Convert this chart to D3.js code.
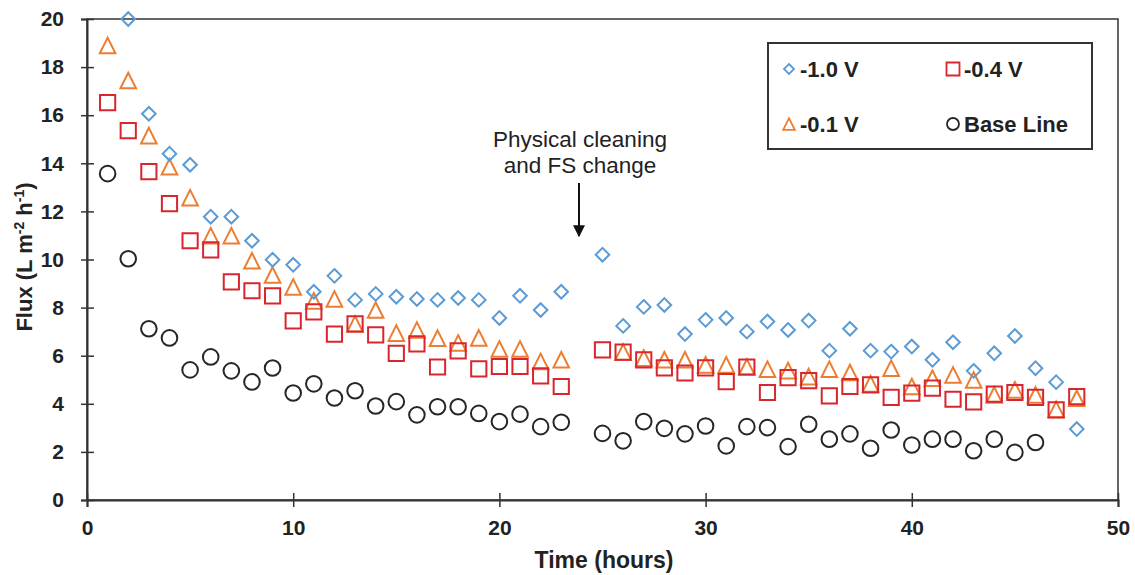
<!DOCTYPE html>
<html>
<head>
<meta charset="utf-8">
<script src="https://cdn.jsdelivr.net/npm/d3@7"></script>
<style>
  body { margin: 0; background: #fff; }
  text { font-family: "Liberation Sans", Arial, sans-serif; }
</style>
</head>
<body>
<div id="container"></div>
<script>
const width = 1135,
      height = 575,
      margin = { top: 19, bottom: 75, left: 87, right: 17 };

// hours of each reading
const hoursA = [1,2,3,4,5,6,7,8,9,10,11,12,13,14,15,16,17,18,19,20,21,22,23];
const hoursB = [25,26,27,28,29,30,31,32,33,34,35,36,37,38,39,40,41,42,43,44,45,46,47,48];

// -1.0 V (no reading at hour 1)
const v10 = [null,20,16.06,14.4,13.94,11.78,11.78,10.78,9.99,9.78,8.66,9.32,8.32,8.57,8.45,8.36,8.32,8.4,8.32,7.57,8.49,7.9,8.66,
             10.2,7.24,8.03,8.11,6.9,7.49,7.57,7.0,7.42,7.07,7.46,6.21,7.12,6.21,6.17,6.38,5.83,6.56,5.37,6.1,6.82,5.48,4.9,2.95];
// -0.4 V
const v04 = [16.52,15.36,13.65,12.32,10.78,10.4,9.07,8.7,8.49,7.45,7.82,6.9,7.32,6.87,6.1,6.49,5.53,6.2,5.45,5.55,5.55,5.16,4.72,
             6.24,6.15,5.83,5.49,5.28,5.49,4.92,5.53,4.47,5.09,4.96,4.33,4.72,4.79,4.27,4.44,4.65,4.19,4.08,4.4,4.47,4.27,3.75,4.3];
// -0.1 V (no reading at hour 25)
const v01 = [18.9,17.44,15.15,13.86,12.57,10.99,10.99,9.95,9.36,8.86,8.28,8.36,7.32,7.9,6.94,7.07,6.73,6.53,6.74,6.28,6.28,5.76,5.83,
             null,6.15,5.9,5.83,5.83,5.62,5.62,5.53,5.44,5.38,5.13,5.44,5.3,4.83,5.48,4.72,5.06,5.2,4.99,4.37,4.58,4.37,3.77,4.23];
// Base Line (no readings at hours 47, 48)
const base = [13.57,10.03,7.12,6.74,5.41,5.95,5.37,4.91,5.49,4.45,4.83,4.24,4.54,3.91,4.09,3.54,3.88,3.88,3.6,3.26,3.57,3.05,3.23,
              2.77,2.46,3.26,2.98,2.75,3.08,2.25,3.05,3.01,2.22,3.15,2.53,2.75,2.15,2.91,2.29,2.53,2.53,2.05,2.53,1.98,2.39,null,null];

const hours = hoursA.concat(hoursB);
const xTicks = [0,10,20,30,40,50];
const yTicks = [0,2,4,6,8,10,12,14,16,18,20];

const seriesInfo = [
    { name: "-1.0 V", values: v10, shape: "diamond", color: "#5b9bd5" },
    { name: "-0.4 V", values: v04, shape: "square", color: "#d7262e" },
    { name: "-0.1 V", values: v01, shape: "triangle", color: "#ed7d31" },
    { name: "Base Line", values: base, shape: "circle", color: "#262626" }
];

var svg = d3.select("#container").append("svg")
    .attr("width", width)
    .attr("height", height);

var x = d3.scaleLinear()
    .domain([0, 50])
    .range([margin.left, width - margin.right]);

var y = d3.scaleLinear()
    .domain([0, 20])
    .range([height - margin.bottom, margin.top]);

// marker path generator, centred on 0,0
function markerPath(shape, s) {
    if (shape === "diamond") return `M0,${-s}L${s},0L0,${s}L${-s},0Z`;
    if (shape === "square") return `M${-s},${-s}H${s}V${s}H${-s}Z`;
    if (shape === "triangle") return `M0,${-s}L${s},${s}L${-s},${s}Z`;
    return d3.arc()({ innerRadius: 0, outerRadius: s, startAngle: 0, endAngle: 2 * Math.PI });
}

const markerSize = { diamond: 6.8, square: 7.6, triangle: 7.8, circle: 7.8 };

// chart frame
svg.append("rect")
    .attr("x", x(0))
    .attr("y", y(20))
    .attr("width", x(50) - x(0))
    .attr("height", y(0) - y(20))
    .attr("fill", "none")
    .attr("stroke", "#333")
    .attr("stroke-width", 1.5);

// points (baseline first so the coloured series sit above)
seriesInfo.slice().reverse().forEach(function(s) {
    var pts = hours.map(function(h, i) { return { h: h, v: s.values[i] }; })
        .filter(function(d) { return d.v != null; });
    svg.append("g")
        .selectAll("path")
        .data(pts)
        .enter()
        .append("path")
        .attr("transform", function(d) { return `translate(${x(d.h)}, ${y(d.v)})`; })
        .attr("d", markerPath(s.shape, markerSize[s.shape]))
        .attr("fill", "none")
        .attr("stroke", s.color)
        .attr("stroke-width", 2);
});

// x-axis
var xAxis = svg.append("g")
    .attr("transform", `translate(0, ${y(0)})`)
    .call(d3.axisBottom(x).tickValues(xTicks).tickSize(7).tickPadding(13));
xAxis.selectAll(".tick line").attr("y1", -7);

// y-axis
var yAxis = svg.append("g")
    .attr("transform", `translate(${x(0)}, 0)`)
    .call(d3.axisLeft(y).tickValues(yTicks).tickSize(6).tickPadding(17));
yAxis.selectAll(".tick line").attr("x1", 7);

svg.selectAll(".domain").attr("stroke", "#333").attr("stroke-width", 2);
svg.selectAll(".tick line").attr("stroke", "#333").attr("stroke-width", 1.5);
svg.selectAll(".tick text")
    .attr("fill", "#222")
    .style("font-size", "21px")
    .style("font-weight", "bold")
    .style("font-family", "'Liberation Sans', Arial, sans-serif");

// axis titles
svg.append("text")
    .attr("x", 604)
    .attr("y", 568)
    .attr("text-anchor", "middle")
    .style("font-size", "23px")
    .style("font-weight", "bold")
    .attr("fill", "#222")
    .text("Time (hours)");

var yTitle = svg.append("text")
    .attr("transform", `translate(32, 257) rotate(-90)`)
    .attr("text-anchor", "middle")
    .style("font-size", "22px")
    .style("font-weight", "bold")
    .attr("fill", "#222");
yTitle.append("tspan").text("Flux (L m");
yTitle.append("tspan").attr("dy", -8).style("font-size", "14px").text("-2");
yTitle.append("tspan").attr("dy", 8).text(" h");
yTitle.append("tspan").attr("dy", -8).style("font-size", "14px").text("-1");
yTitle.append("tspan").attr("dy", 8).text(")");

// annotation
var note = svg.append("text")
    .attr("text-anchor", "middle")
    .style("font-size", "22.5px")
    .attr("fill", "#222");
note.append("tspan").attr("x", 580).attr("y", 147).text("Physical cleaning");
note.append("tspan").attr("x", 580).attr("y", 173).text("and FS change");

svg.append("defs").append("marker")
    .attr("id", "arrow")
    .attr("viewBox", "0 0 10 10")
    .attr("refX", 9).attr("refY", 5)
    .attr("markerWidth", 6).attr("markerHeight", 6)
    .attr("orient", "auto")
    .append("path")
    .attr("d", "M0,0L10,5L0,10Z")
    .attr("fill", "#111");

svg.append("line")
    .attr("x1", 579).attr("x2", 579)
    .attr("y1", 183).attr("y2", 236)
    .attr("stroke", "#111")
    .attr("stroke-width", 2)
    .attr("marker-end", "url(#arrow)");

// legend
var legend = svg.append("g");
legend.append("rect")
    .attr("x", 768).attr("y", 43)
    .attr("width", 324).attr("height", 106)
    .attr("fill", "#fff")
    .attr("stroke", "#333")
    .attr("stroke-width", 2);

const legendPos = [[789, 69], [953, 69], [789, 124], [953, 124]];
const legendSize = { diamond: 5, square: 6.5, triangle: 5.8, circle: 6 };
seriesInfo.forEach(function(s, i) {
    var p = legendPos[i];
    legend.append("path")
        .attr("transform", `translate(${p[0]}, ${p[1]})`)
        .attr("d", markerPath(s.shape, legendSize[s.shape]))
        .attr("fill", "none")
        .attr("stroke", s.color)
        .attr("stroke-width", 1.8);
    legend.append("text")
        .attr("x", p[0] + 11)
        .attr("y", p[1] + 8)
        .style("font-size", "22px")
        .style("font-weight", "bold")
        .attr("fill", "#222")
        .text(s.name);
});
</script>
</body>
</html>
